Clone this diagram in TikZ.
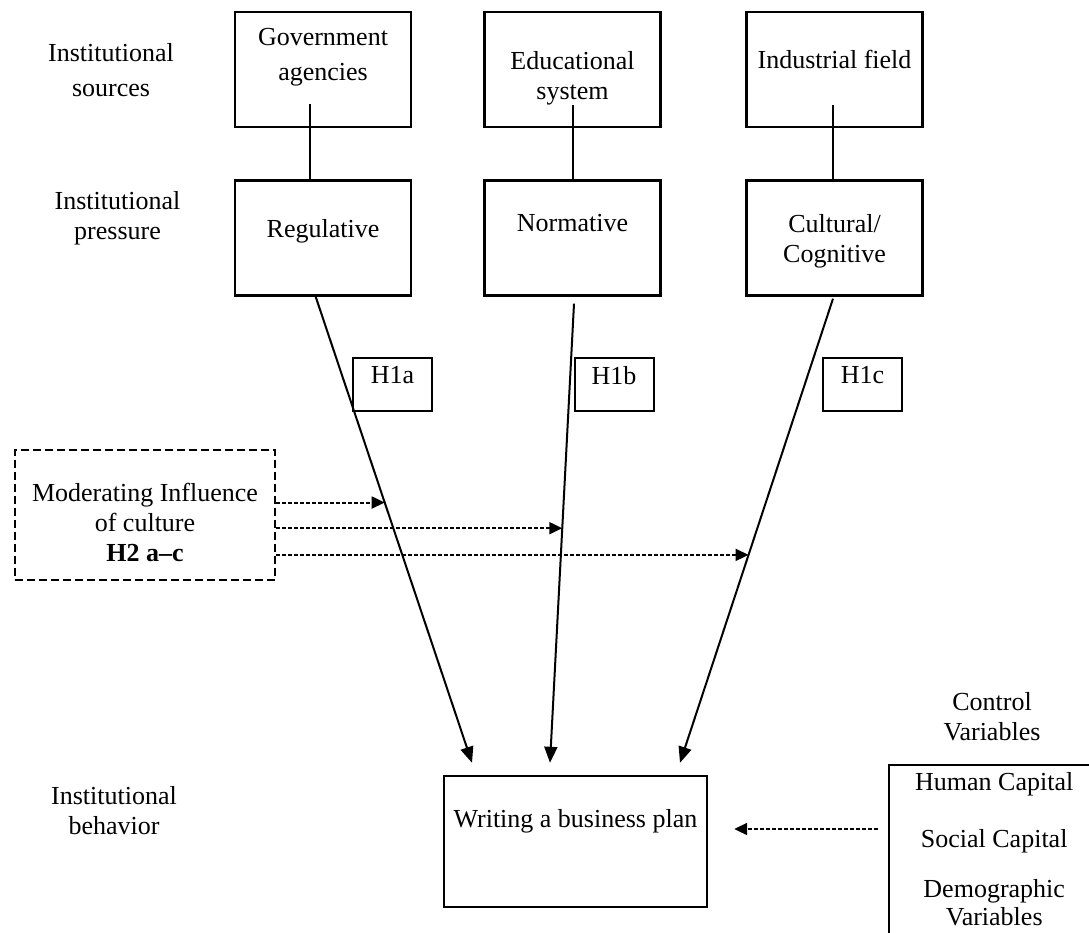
\documentclass[tikz,border=0pt]{standalone}
\usepackage{fontspec}
\setmainfont{Liberation Serif}
\usetikzlibrary{arrows.meta, calc}

\begin{document}
\begin{tikzpicture}[
  x=1pt, y=-1pt,
  font=\fontsize{26}{30}\selectfont,
  >={Triangle[length=16pt, width=13pt]},
  box/.style={draw, line width=2.4pt, minimum width=176pt, minimum height=115pt,
    align=center, inner sep=0pt, text depth=#1},
  hypbox/.style={draw, line width=2pt, minimum width=79pt, minimum height=53pt,
    inner sep=0pt, text depth=19pt},
  lbl/.style={align=center, anchor=base},
  link/.style={line width=2pt},
  arr/.style={->, line width=2pt},
  darr/.style={-{Triangle[length=13pt, width=12pt]}, line width=2pt,
    dash pattern=on 4pt off 2pt},
]

\useasboundingbox (0,0) rectangle (1089,933);

% === Row labels ===
\node[lbl] (srclbl) at (111,97) {Institutional\\[5pt]sources};
\node[lbl] (preslbl) at (117.5,240) {Institutional\\pressure};
\node[lbl] (behlbl) at (114,834) {Institutional\\behavior};

% === Institutional sources ===
\node[box=31pt] (gov) at (323,69.5) {Government\\[5pt]agencies};
\node[box=0pt, text height=61pt] (edu) at (572.5,69.5) {Educational\\system};
\node[box=20.8pt] (ind) at (834.5,69.5) {Industrial field};

% === Institutional pressures ===
\node[box=20pt] (reg) at (323,238) {Regulative};
\node[box=31pt] (norm) at (572.5,238) {Normative};
\node[box=0pt] (cult) at (834.5,238) {Cultural/\\Cognitive};

\draw[link] ([xshift=-13pt, yshift=24pt]gov.south) -- ([xshift=-13pt]reg.north);
\draw[link] ([yshift=23pt]edu.south) -- (norm.north);
\draw[link] ([xshift=-1.5pt, yshift=23pt]ind.south) -- ([xshift=-1.5pt]cult.north);

% === Hypotheses ===
\node[hypbox] (h1a) at (392.5,384.5) {H1a};
\node[hypbox] (h1b) at (614,384.5) {H1b};
\node[hypbox] (h1c) at (862.5,384.5) {H1c};

% === Behavior ===
\node[draw, line width=2.4pt, minimum width=263pt, minimum height=131pt,
  inner sep=0pt, text depth=47pt] (plan) at (575.5,841.5) {Writing a business plan};

\draw[arr] ([xshift=-8pt, yshift=2pt]reg.south) --
  ([xshift=-103.5pt, yshift=12pt]plan.north) coordinate[pos=0.444] (m1);
\draw[arr] ([xshift=1.5pt, yshift=-7pt]norm.south) --
  ([xshift=-25.5pt, yshift=12pt]plan.north) coordinate[pos=0.489] (m2);
\draw[arr] ([xshift=-1.5pt, yshift=-2pt]cult.south) --
  ([xshift=104.5pt, yshift=12pt]plan.north) coordinate[pos=0.552] (m3);

% === Moderator ===
\node[draw, line width=2.4pt, dash pattern=on 8pt off 4pt, minimum width=260pt,
  minimum height=130pt, align=center, inner sep=0pt, text depth=0pt,
  text height=92pt] (mod)
  at (145,515) {Moderating Influence\\of culture\\\textbf{H2 a--c}};

\draw[darr] (mod.east |- m1) -- (m1);
\draw[darr] (mod.east |- m2) -- (m2);
\draw[darr] (mod.east |- m3) -- (m3);

% === Controls ===
\node[lbl] (ctrllbl) at (992,740) {Control\\Variables};
\node[draw, line width=2.4pt, anchor=north west, minimum width=210pt,
  minimum height=200pt, align=center, inner sep=0pt, text depth=33pt] (ctrl)
  at (888,764) {Human Capital\\[27pt]Social Capital\\[20pt]Demographic\\[-2pt]Variables};

\coordinate (planin) at ([xshift=26pt, yshift=12.5pt]plan.east);
\draw[darr] ($(ctrl.west |- planin)+(-10,0)$) -- (planin);

\end{tikzpicture}
\end{document}
